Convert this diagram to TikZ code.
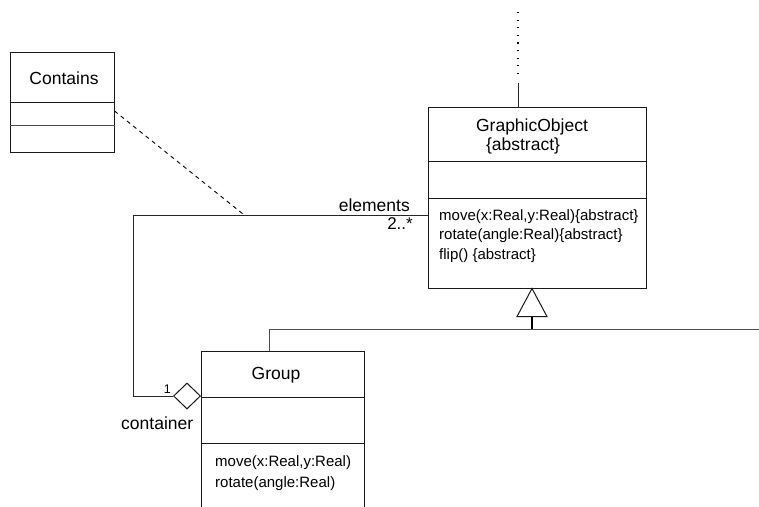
\documentclass[tikz,border=0pt]{standalone}
\usepackage{fontspec}
\setmainfont{Liberation Sans}
\usetikzlibrary{shapes.geometric}
\begin{document}
\begin{tikzpicture}[x=1pt,y=-1pt,
  classbox/.style={draw=black!90, line width=1pt, inner sep=0pt},
  rule/.style={draw=black!90, line width=1pt},
  cname/.style={font=\fontsize{17.5}{21}\selectfont, inner sep=0pt, anchor=base},
  op/.style={font=\fontsize{15}{18}\selectfont, inner sep=0pt, anchor=base west},
  role/.style={font=\fontsize{17.5}{21}\selectfont, inner sep=0pt},
  conn/.style={draw=black!85, line width=1pt},
  linkdash/.style={draw=black, line width=0.9pt, dash pattern=on 4pt off 4pt},
  stubdots/.style={draw=black, line width=1.2pt, dash pattern=on 1.2pt off 6.4pt}]
\useasboundingbox (0,0) rectangle (759,506);
\fill[white] (0,0) rectangle (759,506);
\clip (0,0) rectangle (759,506);

% ---- association class Contains ----
\node[classbox, minimum width=104, minimum height=100] (contains) at (62,102) {};
\draw[rule] (contains.west |- 0,102) -- (contains.east |- 0,102);
\draw[rule, draw=black!70] (contains.west |- 0,125) -- (contains.east |- 0,125);
\node[cname] (contains-name) at (64,84) {Contains};

% ---- GraphicObject ----
\node[classbox, minimum width=218, minimum height=181] (go) at (537,197.5) {};
\draw[rule] (go.west |- 0,161) -- (go.east |- 0,161);
\draw[rule] (go.west |- 0,198) -- (go.east |- 0,198);
\node[cname] (go-name) at (532,131) {GraphicObject};
\node[cname] (go-tag) at (523,150) {\{abstract\}};
\node[op] (go-op1) at (439,220) {move(x:Real,y:Real)\{abstract\}};
\node[op] (go-op2) at (439,239) {rotate(angle:Real)\{abstract\}};
\node[op] (go-op3) at (439,259) {flip() \{abstract\}};

% ---- Group (runs past the lower edge) ----
\node[classbox, minimum width=163, minimum height=179] (group) at (282.5,440.5) {};
\draw[rule] (group.west |- 0,397) -- (group.east |- 0,397);
\draw[rule] (group.west |- 0,443) -- (group.east |- 0,443);
\node[cname] (group-name) at (276,379) {Group};
\node[op] (group-op1) at (215,466) {move(x:Real,y:Real)};
\node[op] (group-op2) at (215,487) {rotate(angle:Real)};

% ---- aggregation Group <>-- GraphicObject ----
\node[draw=black!90, line width=1pt, fill=white, diamond, aspect=1,
      minimum width=27, minimum height=26, inner sep=0pt] (agg) at (187,396) {};
\draw[conn] (go.west |- 0,215) -| (133,396) -- (agg.west);
\node[role, anchor=base east] (elements) at (410,211) {elements};
\node[font=\fontsize{17}{20}\selectfont, inner sep=0pt, anchor=base east] (mult-many) at (413,229) {2..*};
\node[font=\fontsize{12.5}{15}\selectfont, inner sep=0pt, anchor=base east] (mult-one) at (171,393) {1};
\node[role, anchor=base west] (container) at (121,429) {container};

% ---- link of the association class ----
\coordinate (assoc-point) at (243,214);
\draw[linkdash] (contains.east |- 0,111) -- (assoc-point);

% ---- generalization Group -> GraphicObject ----
\path (go.south -| 532,0) coordinate (gen-apex);
\coordinate (gen-join) at (532,329);
\coordinate (gen-right) at (760,329);
\draw[rule] (gen-apex) -- ++(-15,28) -- ++(30,0) -- cycle;
\draw[draw=black, line width=2pt] ([yshift=-28pt]gen-apex) -- (gen-join);
\draw[conn, draw=black!70] (gen-right) -- (269,329) -- (group.north -| 269,0);

% ---- GraphicObject's own parent, off the top ----
\coordinate (parent-stub) at (518,83);
\coordinate (parent-far) at (518,12);
\draw[conn] (go.north -| 518,0) -- (parent-stub);
\draw[stubdots] (518,74) -- (parent-far);
\end{tikzpicture}
\end{document}
